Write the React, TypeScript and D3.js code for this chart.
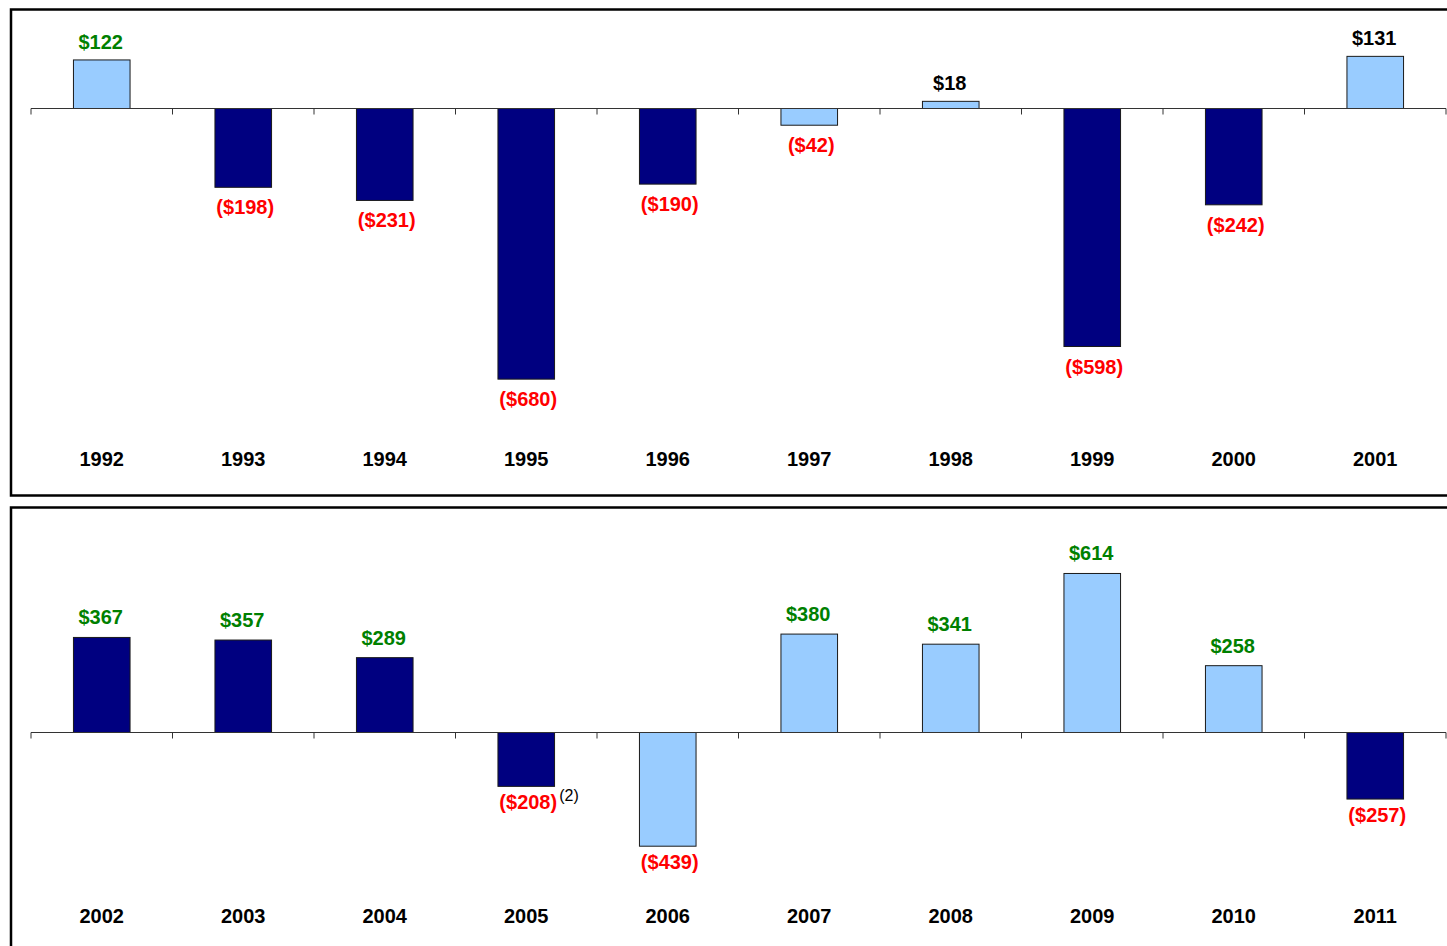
import React from "react";
import * as d3 from "d3";

const yearsTop = ["1992","1993","1994","1995","1996","1997","1998","1999","2000","2001"];
const valuesTop = [122,-198,-231,-680,-190,-42,18,-598,-242,131];
const colorsTop = ["light","navy","navy","navy","navy","light","light","navy","navy","light"];
const labelColorsTop = ["green","red","red","red","red","red","black","red","red","black"];

const yearsBottom = ["2002","2003","2004","2005","2006","2007","2008","2009","2010","2011"];
const valuesBottom = [367,357,289,-208,-439,380,341,614,258,-257];
const colorsBottom = ["navy","navy","navy","navy","light","light","light","light","light","navy"];
const labelColorsBottom = ["green","green","green","red","red","green","green","green","green","red"];
const footnotesBottom = ["","","","(2)","","","","","",""];

const FILL: Record<string,string> = { light: "#99CCFF", navy: "#000080" };
const TEXT: Record<string,string> = { green: "#008000", red: "#FF0000", black: "#000000" };

const fmt = (v: number) => (v < 0 ? `($${Math.abs(v)})` : `$${v}`);

type PanelProps = {
  years: string[]; values: number[]; colors: string[]; labelColors: string[];
  footnotes?: string[];
  top: number; bottom: number; axisY: number; pxPerUnit: number; yearY: number;
  posOff: number; negOff: number;
};

function Panel(p: PanelProps) {
  const x = d3.scaleBand<string>().domain(p.years).range([31, 1446]).paddingInner(0).paddingOuter(0);
  const y = d3.scaleLinear().domain([0, 1]).range([p.axisY, p.axisY - p.pxPerUnit]);
  const bw = x.bandwidth() * 0.4;
  const font = "'Liberation Sans', Arial, sans-serif";
  const ticks = d3.range(p.years.length + 1).map(i => 31 + i * x.bandwidth());
  return (
    <g>
      <rect x={11} y={p.top} width={1460} height={p.bottom - p.top} fill="#fff" stroke="#000" strokeWidth={2.5} />
      {p.values.map((v, i) => {
        const cx = (x(p.years[i]) as number) + x.bandwidth() / 2;
        const y0 = y(Math.max(0, v));
        const y1 = y(Math.min(0, v));
        return (
          <g key={i}>
            <rect x={cx - bw / 2} y={y0} width={bw} height={y1 - y0} fill={FILL[p.colors[i]]} stroke="#1a1a1a" strokeWidth={1} />
            <text x={v >= 0 ? cx - 1 : cx + 2} y={v >= 0 ? y0 - p.posOff : y1 + p.negOff} textAnchor="middle" fontFamily={font} fontWeight="bold" fontSize={20} fill={TEXT[p.labelColors[i]]}>
              {fmt(v)}
            </text>
            {p.footnotes && p.footnotes[i] ? (
              <text x={cx + 33} y={y1 + 15} fontFamily={font} fontSize={16} fill="#000">{p.footnotes[i]}</text>
            ) : null}
            <text x={cx} y={p.yearY} textAnchor="middle" fontFamily={font} fontWeight="bold" fontSize={20} fill="#000">
              {p.years[i]}
            </text>
          </g>
        );
      })}
      <line x1={31} x2={1446} y1={p.axisY} y2={p.axisY} stroke="#333" strokeWidth={1} />
      {ticks.map((t, i) => (
        <line key={i} x1={t} x2={t} y1={p.axisY} y2={p.axisY + 6} stroke="#333" strokeWidth={1} />
      ))}
    </g>
  );
}

export default function App() {
  return (
    <svg width={1447} height={946} style={{ position: "absolute", left: 0, top: 0 }}>
      <rect width={1447} height={946} fill="#fff" />
      <Panel years={yearsTop} values={valuesTop} colors={colorsTop} labelColors={labelColorsTop}
        top={9.5} bottom={495.5} axisY={108.5} pxPerUnit={0.398} yearY={466} posOff={11} negOff={27} />
      <Panel years={yearsBottom} values={valuesBottom} colors={colorsBottom} labelColors={labelColorsBottom}
        footnotes={footnotesBottom}
        top={507.5} bottom={960} axisY={732.5} pxPerUnit={0.259} yearY={923} posOff={13} negOff={23} />
    </svg>
  );
}
